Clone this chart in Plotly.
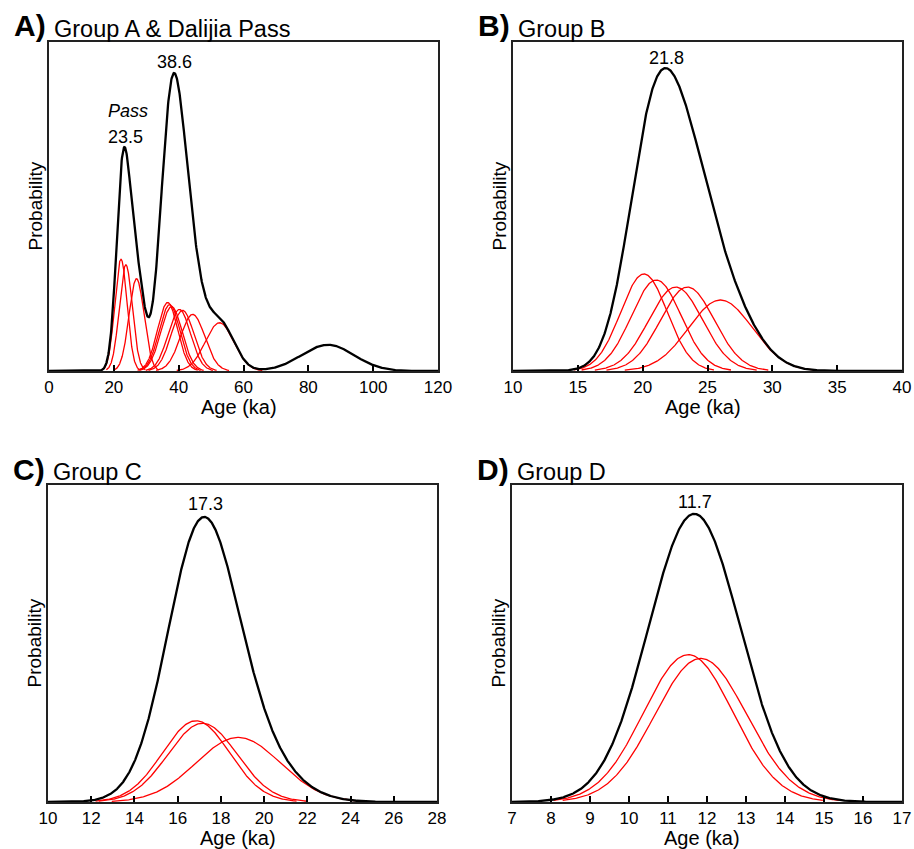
import numpy as np
import plotly.graph_objects as go

# ---------------- data (ages in ka, 1-sigma uncertainties) ----------------
# Panel A: Group A & Dalijia Pass
a_ages = [22.2, 23.7, 27.0, 36.6, 37.2, 37.8, 40.2, 41.2, 44.3, 52.6]
a_sigmas = [1.9, 2.0, 2.3, 3.1, 3.2, 3.3, 3.45, 3.5, 3.75, 4.4]
a_hidden_ages = [86.0]          # in summed curve only
a_hidden_sigmas = [8.1]
a_peaks = [23.5, 38.6]

# Panel B: Group B
b_ages = [20.1, 21.05, 22.55, 23.45, 26.0]
b_sigmas = [1.8, 1.92, 2.08, 2.08, 2.46]
b_hidden_ages = []
b_hidden_sigmas = []
b_peaks = [21.8]

# Panel C: Group C
c_ages = [16.85, 17.15, 18.8]
c_sigmas = [1.55, 1.6, 1.95]
c_hidden_ages = [17.1]
c_hidden_sigmas = [1.55]
c_peaks = [17.3]

# Panel D: Group D
d_ages = [11.52, 11.84]
d_sigmas = [1.15, 1.18]
d_hidden_ages = []
d_hidden_sigmas = []
d_peaks = [11.7]

panel_letters = ["A)", "B)", "C)", "D)"]
panel_titles = ["Group A & Dalijia Pass", "Group B", "Group C", "Group D"]
x_ranges = [[0, 120], [10, 40], [10, 28], [7, 17]]
x_tickvals = [list(range(0, 121, 20)), list(range(10, 41, 5)),
              list(range(10, 29, 2)), list(range(7, 18, 1))]

# ---------------- layout geometry (pixels) ----------------
W, H = 914, 849
# plot boxes: left, right, top, bottom
boxes = [(49, 438, 42, 371), (513, 902, 42, 371),
         (48, 437, 485, 802), (512, 902, 485, 802)]
headroom = [1.104, 1.086, 1.112, 1.10]
label_yshift = [[11, 11], [10], [13], [12]]

FONT = "Liberation Sans, Arial, Helvetica, sans-serif"
RED = "rgb(255,0,0)"


def pdf(x, mu, s):
    return np.exp(-0.5 * ((x - mu) / s) ** 2) / (s * np.sqrt(2 * np.pi))


groups = [
    (a_ages, a_sigmas, a_hidden_ages, a_hidden_sigmas, a_peaks),
    (b_ages, b_sigmas, b_hidden_ages, b_hidden_sigmas, b_peaks),
    (c_ages, c_sigmas, c_hidden_ages, c_hidden_sigmas, c_peaks),
    (d_ages, d_sigmas, d_hidden_ages, d_hidden_sigmas, d_peaks),
]

fig = go.Figure()
annotations = []
layout_axes = {}

for i, (ages, sigs, hages, hsigs, peaks) in enumerate(groups):
    xa = "x" if i == 0 else f"x{i+1}"
    ya = "y" if i == 0 else f"y{i+1}"
    lo, hi = x_ranges[i]
    xs = np.linspace(lo, hi, 1200)
    total = np.zeros_like(xs)
    for mu, s in zip(ages, sigs):
        total += pdf(xs, mu, s)
    for mu, s in zip(hages, hsigs):
        total += pdf(xs, mu, s)
    # individual (red) curves
    for mu, s in zip(ages, sigs):
        xr = np.linspace(max(lo, mu - 3 * s), min(hi, mu + 3 * s), 300)
        fig.add_trace(go.Scatter(x=xr, y=pdf(xr, mu, s), mode="lines",
                                 line=dict(color=RED, width=1.3),
                                 xaxis=xa, yaxis=ya, showlegend=False,
                                 hoverinfo="skip"))
    # summed (black) curve
    fig.add_trace(go.Scatter(x=xs, y=total, mode="lines",
                             line=dict(color="black", width=2.3),
                             xaxis=xa, yaxis=ya, showlegend=False))
    ymax = total.max() * headroom[i]

    l, r, t, b = boxes[i]
    xdom = [l / W, r / W]
    ydom = [1 - b / H, 1 - t / H]
    key = "" if i == 0 else str(i + 1)
    layout_axes["xaxis" + key] = dict(
        domain=xdom, anchor=ya, range=[lo, hi], tickvals=x_tickvals[i],
        ticks="inside", ticklen=6, tickwidth=1.5, tickcolor="black",
        showline=True, linecolor="#222", linewidth=2, mirror=True,
        showgrid=False, zeroline=False, automargin=False,
        tickfont=dict(family=FONT, size=17, color="black"),
        ticklabelstandoff=0,
    )
    layout_axes["yaxis" + key] = dict(
        domain=ydom, anchor=xa, range=[0, ymax],
        showline=True, linecolor="#222", linewidth=2, mirror=True,
        showgrid=False, zeroline=False, showticklabels=False, ticks="",
        automargin=False,
    )

    # peak labels
    for j, p in enumerate(peaks):
        yv = float(np.interp(p, xs, total))
        annotations.append(dict(x=p, y=yv, xref=xa, yref=ya, text=f"{p}",
                                showarrow=False, yanchor="middle",
                                yshift=label_yshift[i][j],
                                font=dict(family=FONT, size=18, color="black")))
        if i == 0 and j == 0:
            annotations.append(dict(x=p, y=yv, xref=xa, yref=ya,
                                    text="<i>Pass</i>", showarrow=False,
                                    yanchor="middle", yshift=37, xshift=3,
                                    font=dict(family=FONT, size=18, color="black")))

    # panel letter and title
    annotations.append(dict(x=(l - 37) / W, y=1 - (t - 16) / H, xref="paper", yref="paper",
                            text=f"<b>{panel_letters[i]}</b>", showarrow=False,
                            xanchor="left", yanchor="middle",
                            font=dict(family=FONT, size=30, color="black")))
    annotations.append(dict(x=(l + 3) / W, y=1 - (t - 13) / H, xref="paper", yref="paper",
                            text=panel_titles[i], showarrow=False,
                            xanchor="left", yanchor="middle",
                            font=dict(family=FONT, size=23.5, color="black")))
    # axis titles
    annotations.append(dict(x=(l + r) / 2 / W - 5 / W, y=1 - (b + 36) / H,
                            xref="paper", yref="paper", text="Age (ka)",
                            showarrow=False, xanchor="center", yanchor="middle",
                            borderpad=0,
                            font=dict(family=FONT, size=20, color="black")))
    annotations.append(dict(x=(l - 14) / W, y=1 - (t + b) / 2 / H,
                            xref="paper", yref="paper", text="Probability",
                            showarrow=False, xanchor="center", yanchor="middle",
                            textangle=-90,
                            font=dict(family=FONT, size=19, color="black")))

fig.update_layout(
    width=W, height=H,
    margin=dict(l=0, r=0, t=0, b=0, pad=0, autoexpand=False),
    paper_bgcolor="white", plot_bgcolor="white",
    annotations=annotations, showlegend=False,
    **layout_axes,
)

fig.write_html("out.html", config={"displayModeBar": False},
               post_script="document.body.style.margin='0';"
                           "document.body.style.overflow='hidden';")
